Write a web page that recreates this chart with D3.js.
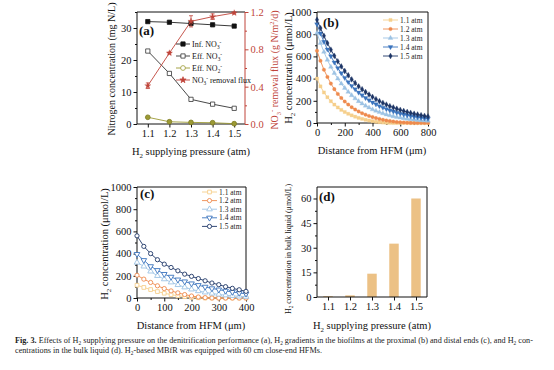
<!DOCTYPE html>
<html>
<head>
<meta charset="utf-8">
<script src="https://cdn.jsdelivr.net/npm/d3@7"></script>
<style>
  body { margin: 0; background: #fff; }
  svg { display: block; font-family: "Liberation Serif", "Times New Roman", serif; }
  text { font-family: "Liberation Serif", "Times New Roman", serif; }
</style>
</head>
<body>
<div id="chart"></div>
<script>
// ---- data ----
const pressures = [1.1, 1.2, 1.3, 1.4, 1.5];
const infNO3 = [32.0, 31.8, 31.4, 31.0, 30.6];
const effNO3 = [22.8, 15.8, 7.7, 6.2, 4.9];
const effNO2 = [2.1, 0.7, 0.5, 0.4, 0.1];
const removalFlux = [0.41, 0.76, 1.10, 1.15, 1.19];
const removalFluxErr = [0.03, 0.01, 0.06, 0.03, 0.01];

const seriesNames = ["1.1 atm", "1.2 atm", "1.3 atm", "1.4 atm", "1.5 atm"];

// (b) proximal end
const distProximal = [0, 25, 50, 75, 100, 125, 150, 175, 200, 225, 250, 275, 300, 325, 350, 375, 400,
  425, 450, 475, 500, 525, 550, 575, 600, 625, 650, 675, 700, 725, 750, 775, 800];
const proximal11 = [400, 330, 275, 232, 196, 166, 140, 118, 99, 83, 69, 57, 46, 37, 29, 22, 16, 11, 7, 4, 2, 1, 0, 0, 0, 0, 0, 0, 0, 0, 0, 0, 0];
const proximal12 = [650, 560, 480, 415, 355, 305, 262, 225, 193, 166, 142, 121, 104, 88, 75, 63, 53, 44, 36, 29, 23, 18, 13, 9, 6, 4, 2, 1, 0, 0, 0, 0, 0];
const proximal13 = [810, 720, 640, 568, 505, 449, 399, 354, 315, 280, 249, 221, 196, 174, 155, 138, 122, 109, 97, 86, 76, 68, 60, 54, 48, 42, 37, 33, 30, 26, 23, 21, 19];
const proximal14 = [890, 807, 732, 664, 602, 546, 495, 449, 407, 369, 335, 304, 275, 250, 226, 205, 186, 169, 153, 139, 126, 114, 104, 94, 85, 77, 70, 63, 57, 52, 47, 43, 39];
const proximal15 = [930, 855, 785, 720, 660, 605, 555, 510, 468, 430, 393, 360, 330, 304, 279, 256, 235, 215, 197, 181, 166, 152, 140, 128, 118, 108, 99, 91, 83, 76, 70, 64, 59];

// (c) distal end
const distDistal = [0, 25, 50, 75, 100, 125, 150, 175, 200, 225, 250, 275, 300, 325, 350, 375, 400];
const distal11 = [115, 95, 76, 58, 43, 30, 20, 12, 6, 2, 0, 0, 0, 0, 0, 0, 0];
const distal12 = [205, 170, 140, 110, 85, 64, 46, 31, 18, 9, 3, 0, 0, 0, 0, 0, 0];
const distal13 = [320, 285, 240, 200, 170, 142, 118, 97, 78, 63, 51, 41, 32, 25, 20, 15, 12];
const distal14 = [395, 340, 285, 250, 215, 190, 165, 148, 130, 115, 100, 86, 75, 64, 54, 45, 38];
const distal15 = [560, 465, 400, 345, 305, 275, 245, 215, 195, 175, 155, 135, 120, 102, 87, 74, 60];

// (d) bulk liquid
const bulkH2 = [0.5, 1.0, 14.2, 32.5, 60.0];

// ---- styles ----
const colors = ["#f6cf8b", "#ee8a4e", "#9dc3e4", "#3b74bd", "#1d3566"];
const red = "#c0443a";
const olive = "#9c9a34";
const barColor = "#ecc185";
const serif = '"Liberation Serif", "Times New Roman", serif';

const svg = d3.select("#chart").append("svg")
    .attr("width", 554)
    .attr("height", 370);
svg.append("rect").attr("width", 554).attr("height", 370).attr("fill", "#fff");

// text with sub/superscripts
function rich(sel, parts, fs) {
    let prev = 0;
    parts.forEach(p => {
        const shift = p.sub ? fs * 0.3 : p.sup ? -fs * 0.38 : 0;
        const ts = sel.append("tspan").text(p.t).attr("dy", (shift - prev).toFixed(2));
        if (p.sub || p.sup) ts.attr("font-size", (fs * 0.65).toFixed(2));
        if (p.bold) ts.attr("font-weight", "bold");
        prev = shift;
    });
    return sel;
}

function label(g, x, y, parts, fs, opts = {}) {
    const t = g.append("text")
        .attr("font-family", serif)
        .attr("font-size", fs)
        .attr("fill", opts.color || "#111")
        .attr("text-anchor", opts.anchor || "middle");
    if (opts.rotate) t.attr("transform", `translate(${x},${y}) rotate(-90)`);
    else t.attr("x", x).attr("y", y);
    return rich(t, parts, fs);
}

const H2 = [{ t: "H" }, { t: "2", sub: true }];
const NO3 = [{ t: "NO" }, { t: "3", sub: true }, { t: "-", sup: true }];
const NO2 = [{ t: "NO" }, { t: "2", sub: true }, { t: "-", sup: true }];

function styleAxis(a, color) {
    a.attr("font-family", serif).attr("font-size", 10.5);
    a.select(".domain").remove();
    a.selectAll("line").attr("stroke", color || "#111");
    a.selectAll("text").attr("fill", color || "#111");
}

function drawAxes(g, x, y, o) {
    const w = x.range()[1], h = y.range()[0];
    g.append("g").attr("transform", `translate(0,${h})`)
        .call(d3.axisBottom(x).tickValues(o.xMinor).tickSize(2).tickFormat(""))
        .call(styleAxis);
    g.append("g").attr("transform", `translate(0,${h})`)
        .call(d3.axisBottom(x).tickValues(o.xTicks).tickSize(3.5).tickPadding(2.5).tickFormat(o.xFmt))
        .call(styleAxis);
    g.append("g")
        .call(d3.axisLeft(y).tickValues(o.yMinor).tickSize(2).tickFormat(""))
        .call(styleAxis);
    g.append("g")
        .call(d3.axisLeft(y).tickValues(o.yTicks).tickSize(3.5).tickPadding(2).tickFormat(o.yFmt))
        .call(styleAxis);
    // frame
    const frame = [[0, 0, 0, h, "#111"], [0, h, w, h, "#111"], [0, 0, w, 0, "#111"], [w, 0, w, h, o.rightColor || "#111"]];
    frame.forEach(f => g.append("line")
        .attr("x1", f[0]).attr("y1", f[1]).attr("x2", f[2]).attr("y2", f[3])
        .attr("stroke", f[4]).attr("stroke-width", 1));
}

function marker(type, size) {
    const t = { square: d3.symbolSquare, circle: d3.symbolCircle, tri: d3.symbolTriangle,
        triDown: d3.symbolTriangle, star: d3.symbolStar, diamond: d3.symbolDiamond }[type];
    return d3.symbol().type(t).size(size)();
}

function drawMarker(g, type, cx, cy, size, fill, stroke, sw) {
    g.append("path")
        .attr("d", marker(type, size))
        .attr("transform", `translate(${cx},${cy})` + (type === "triDown" ? " rotate(180)" : ""))
        .attr("fill", fill)
        .attr("stroke", stroke)
        .attr("stroke-width", sw || 0.8);
}

// ================= (a) =================
{
    const W = 108, H = 112;
    const g = svg.append("g").attr("transform", "translate(137,12)");
    const x = d3.scaleLinear().domain([1.05, 1.55]).range([0, W]);
    const yL = d3.scaleLinear().domain([0, 35]).range([H, 0]);
    const yR = d3.scaleLinear().domain([0, 1.2]).range([H, 0]);

    drawAxes(g, x, yL, {
        xTicks: pressures, xMinor: [], xFmt: d3.format(".1f"),
        yTicks: [0, 10, 20, 30], yMinor: [5, 15, 25, 35], yFmt: d3.format("d"),
        rightColor: red
    });
    g.append("g").attr("transform", `translate(${W},0)`)
        .call(d3.axisRight(yR).tickValues([0.2, 0.6, 1.0]).tickSize(2).tickFormat(""))
        .call(a => styleAxis(a, red));
    g.append("g").attr("transform", `translate(${W},0)`)
        .call(d3.axisRight(yR).tickValues([0, 0.4, 0.8, 1.2]).tickSize(3.5).tickPadding(2).tickFormat(d3.format(".1f")))
        .call(a => styleAxis(a, red));

    const lineL = d3.line().x((d, i) => x(pressures[i])).y(d => yL(d));
    const lineR = d3.line().x((d, i) => x(pressures[i])).y(d => yR(d));

    const leftSeries = [
        { data: infNO3, line: "#222", type: "square", fill: "#111", stroke: "#111", size: 18 },
        { data: effNO3, line: "#333", type: "square", fill: "#fff", stroke: "#333", size: 18 },
        { data: effNO2, line: olive, type: "circle", fill: olive, stroke: "#7d7b22", size: 18 }
    ];
    leftSeries.forEach(s => {
        g.append("path").datum(s.data).attr("d", lineL)
            .attr("fill", "none").attr("stroke", s.line).attr("stroke-width", 0.9);
        s.data.forEach((v, i) => drawMarker(g, s.type, x(pressures[i]), yL(v), s.size, s.fill, s.stroke));
    });

    // removal flux with error bars
    g.append("path").datum(removalFlux).attr("d", lineR)
        .attr("fill", "none").attr("stroke", red).attr("stroke-width", 0.9);
    removalFlux.forEach((v, i) => {
        const cx = x(pressures[i]);
        const e = removalFluxErr[i];
        g.append("line").attr("x1", cx).attr("x2", cx).attr("y1", yR(v - e)).attr("y2", yR(v + e))
            .attr("stroke", red).attr("stroke-width", 0.8);
        [v - e, v + e].forEach(b => g.append("line")
            .attr("x1", cx - 2).attr("x2", cx + 2).attr("y1", yR(b)).attr("y2", yR(b))
            .attr("stroke", red).attr("stroke-width", 0.8));
        drawMarker(g, "star", cx, yR(v), 12, red, red, 0.3);
    });

    // legend
    const legA = [
        { parts: [{ t: "Inf. " }, ...NO3], s: leftSeries[0] },
        { parts: [{ t: "Eff. " }, ...NO3], s: leftSeries[1] },
        { parts: [{ t: "Eff. " }, ...NO2], s: { line: olive, type: "circle", fill: "#fff", stroke: olive, size: 18 } },
        { parts: [...NO3, { t: " removal flux" }], s: { line: red, type: "star", fill: red, stroke: red, size: 12 } }
    ];
    legA.forEach((d, i) => {
        const ly = 32 + i * 12;
        g.append("line").attr("x1", 39).attr("x2", 53).attr("y1", ly).attr("y2", ly)
            .attr("stroke", d.s.line).attr("stroke-width", 0.9);
        drawMarker(g, d.s.type, 46, ly, d.s.size, d.s.fill, d.s.stroke);
        label(g, 55, ly + 2.8, d.parts, 8, { anchor: "start" });
    });

    svg.append("text").attr("x", 139).attr("y", 35).attr("font-size", 13).attr("font-family", serif)
        .attr("font-weight", "bold").attr("fill", "#111").text("(a)");

    label(svg, 115, 69, [{ t: "Nitrogen concentration (mg N/L)" }], 10, { rotate: true });
    label(svg, 278, 70, [...NO3, { t: " removal flux (g N/m" }, { t: "2", sup: true }, { t: "/d)" }], 10, { rotate: true, color: red });
    label(svg, 191, 155, [...H2, { t: " supplying pressure (atm)" }], 10.5);
}

// gradient panel helper for (b) and (c)
function gradientPanel(tx, ty, W, H, xMax, dist, series, types, open, size, xt, xm, legPos, legStep, tag) {
    const g = svg.append("g").attr("transform", `translate(${tx},${ty})`);
    const x = d3.scaleLinear().domain([0, xMax]).range([0, W]);
    const y = d3.scaleLinear().domain([0, 1000]).range([H, 0]);
    drawAxes(g, x, y, {
        xTicks: xt, xMinor: xm, xFmt: d3.format("d"),
        yTicks: [0, 200, 400, 600, 800, 1000], yMinor: [100, 300, 500, 700, 900], yFmt: d3.format("d")
    });
    const line = d3.line().x((d, i) => x(dist[i])).y(d => y(d));
    series.forEach((s, k) => {
        g.append("path").datum(s).attr("d", line)
            .attr("fill", "none").attr("stroke", colors[k]).attr("stroke-width", 0.9);
        s.forEach((v, i) => drawMarker(g, types[k], x(dist[i]), y(v), size,
            open ? "#fff" : colors[k], colors[k], open ? 0.9 : 0.3));
    });
    // legend
    seriesNames.forEach((n, k) => {
        const ly = legPos[1] + k * legStep;
        g.append("line").attr("x1", legPos[0]).attr("x2", legPos[0] + 15).attr("y1", ly).attr("y2", ly)
            .attr("stroke", colors[k]).attr("stroke-width", 0.9);
        drawMarker(g, types[k], legPos[0] + 7.5, ly, size, open ? "#fff" : colors[k], colors[k], open ? 0.9 : 0.3);
        g.append("text").attr("x", legPos[0] + 17).attr("y", ly + 2.5).attr("font-family", serif)
            .attr("font-size", 7.5).attr("fill", "#222").text(n);
    });
    svg.append("text").attr("x", tag[1]).attr("y", tag[2]).attr("font-size", 13).attr("font-family", serif)
        .attr("font-weight", "bold").attr("fill", "#111").text(tag[0]);
}

// ================= (b) =================
gradientPanel(317, 12, 111, 111, 800, distProximal,
    [proximal11, proximal12, proximal13, proximal14, proximal15],
    ["square", "circle", "tri", "triDown", "diamond"], false, 10,
    [0, 200, 400, 600, 800], [100, 300, 500, 700], [66, 8], 9, ["(b)", 323, 27]);
label(svg, 292, 68, [...H2, { t: " concentration (\u03bcmol/L)" }], 10.5, { rotate: true });
label(svg, 372, 154, [{ t: "Distance from HFM (\u03bcm)" }], 10.5);

// ================= (c) =================
gradientPanel(137, 187, 109, 111, 400, distDistal,
    [distal11, distal12, distal13, distal14, distal15],
    ["square", "circle", "tri", "triDown", "circle"], true, 14,
    [0, 100, 200, 300, 400], [50, 150, 250, 350], [65, 5], 8.6, ["(c)", 140, 198]);
label(svg, 108, 244, [...H2, { t: " concentration (\u03bcmol/L)" }], 10.5, { rotate: true });
label(svg, 191, 329, [{ t: "Distance from HFM (\u03bcm)" }], 10.5);

// ================= (d) =================
{
    const W = 110, H = 110;
    const g = svg.append("g").attr("transform", "translate(317,187)");
    const x = d3.scaleLinear().domain([1.05, 1.55]).range([0, W]);
    const y = d3.scaleLinear().domain([0, 67]).range([H, 0]);
    const bw = (x(1.2) - x(1.1)) * 0.43;
    g.selectAll("rect.bar").data(bulkH2).enter().append("rect")
        .attr("class", "bar")
        .attr("x", (d, i) => x(pressures[i]) - bw / 2)
        .attr("y", d => y(d))
        .attr("width", bw)
        .attr("height", d => H - y(d))
        .attr("fill", barColor);
    drawAxes(g, x, y, {
        xTicks: pressures, xMinor: [], xFmt: d3.format(".1f"),
        yTicks: [0, 15, 30, 45, 60], yMinor: [7.5, 22.5, 37.5, 52.5], yFmt: d3.format("d")
    });
    svg.append("text").attr("x", 319).attr("y", 201).attr("font-size", 13).attr("font-family", serif)
        .attr("font-weight", "bold").attr("fill", "#111").text("(d)");
    label(svg, 291, 249, [...H2, { t: " concentration in bulk liquid (\u03bcmol/L)" }], 8, { rotate: true });
    label(svg, 372, 329, [...H2, { t: " supplying pressure (atm)" }], 10.5);
}

// ================= caption =================
{
    const fs = 8.2;
    const c1 = svg.append("text").attr("x", 15).attr("y", 343).attr("font-family", serif)
        .attr("font-size", fs).attr("fill", "#222");
    rich(c1, [{ t: "Fig. 3.", bold: true }, { t: " Effects of H" }, { t: "2", sub: true },
        { t: " supplying pressure on the denitrification performance (a), H" }, { t: "2", sub: true },
        { t: " gradients in the biofilms at the proximal (b) and distal ends (c), and H" }, { t: "2", sub: true },
        { t: " con-" }], fs);
    const c2 = svg.append("text").attr("x", 15).attr("y", 352.5).attr("font-family", serif)
        .attr("font-size", fs).attr("fill", "#222");
    rich(c2, [{ t: "centrations in the bulk liquid (d). H" }, { t: "2", sub: true },
        { t: "-based MBfR was equipped with 60 cm close-end HFMs." }], fs);
}
</script>
</body>
</html>
